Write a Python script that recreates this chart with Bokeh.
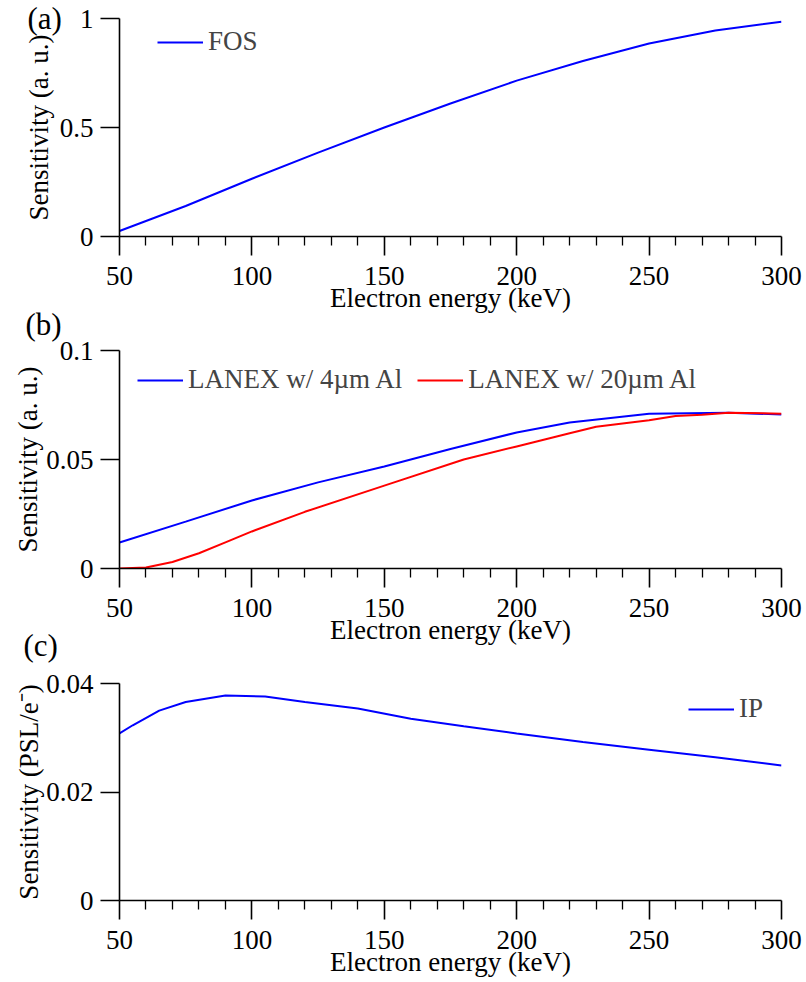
from bokeh.plotting import figure
from bokeh.layouts import column
from bokeh.models import FixedTicker, Legend, LegendItem, Range1d
from bokeh.embed import file_html
from bokeh.resources import INLINE

# ---- data ----
fos_e = [50, 75, 100, 125, 150, 175, 200, 225, 250, 275, 300]
fos_s = [0.025, 0.14, 0.265, 0.385, 0.5, 0.61, 0.715, 0.805, 0.885, 0.945, 0.985]

lanex4_e = [50, 75, 100, 125, 150, 175, 200, 220, 250, 280, 300]
lanex4_s = [0.0119, 0.0215, 0.0312, 0.0395, 0.0468, 0.0548, 0.0624, 0.067, 0.071, 0.0715, 0.0706]

lanex20_e = [50, 60, 70, 80, 90, 100, 120, 150, 180, 200, 220, 230, 250, 260, 270, 280, 300]
lanex20_s = [0.0, 0.0005, 0.003, 0.007, 0.012, 0.017, 0.026, 0.038, 0.050, 0.056, 0.062, 0.065, 0.068, 0.070, 0.0705, 0.0715, 0.071]

ip_e = [50, 55, 65, 75, 90, 105, 120, 140, 160, 180, 200, 225, 250, 275, 300]
ip_s = [0.0308, 0.0323, 0.035, 0.0366, 0.0378, 0.0376, 0.0366, 0.0354, 0.0335, 0.0321, 0.0308, 0.0292, 0.0278, 0.0264, 0.0249]

x_major = [50, 100, 150, 200, 250, 300]
x_minor = [60, 70, 80, 90, 110, 120, 130, 140, 160, 170, 180, 190,
           210, 220, 230, 240, 260, 270, 280, 290]

ya_ticks = [0, 0.5, 1]
ya_labels = {0: "0", 0.5: "0.5", 1: "1"}
yb_ticks = [0, 0.05, 0.1]
yb_labels = {0: "0", 0.05: "0.05", 0.1: "0.1"}
yc_ticks = [0, 0.02, 0.04]
yc_labels = {0: "0", 0.02: "0.02", 0.04: "0.04"}

FONT = "Liberation Serif"
TICK_FS = "27px"
LAB_FS = "27px"
TAG_FS = "31px"


def make_fig(height, top, bottom, ymax, yticks, ylabels, ylabel, ylab_standoff,
             tag, tag_offset, tag_standoff, margin_top=0):
    p = figure(width=806, height=height, output_backend="svg", toolbar_location=None,
               x_range=Range1d(50, 300), y_range=Range1d(0, ymax),
               min_border_left=119, min_border_right=25,
               min_border_top=top, min_border_bottom=bottom,
               margin=(margin_top, 0, 0, 0))
    p.outline_line_color = None
    p.xgrid.visible = False
    p.ygrid.visible = False
    p.border_fill_alpha = 0
    p.background_fill_alpha = 0
    p.title.text = tag
    p.title.align = "left"
    p.title.offset = tag_offset
    p.title.vertical_align = "bottom"
    p.title.standoff = tag_standoff
    p.title.text_font = FONT
    p.title.text_font_size = TAG_FS
    p.title.text_font_style = "normal"
    p.title.text_color = "black"
    xa = p.xaxis[0]
    xa.ticker = FixedTicker(ticks=x_major, minor_ticks=x_minor)
    xa.major_tick_out = 19
    xa.major_tick_in = 0
    xa.minor_tick_out = 9
    xa.minor_tick_in = 0
    xa.axis_label = "Electron energy (keV)"
    ya = p.yaxis[0]
    ya.ticker = FixedTicker(ticks=yticks, minor_ticks=[])
    ya.major_label_overrides = ylabels
    ya.major_tick_out = 19
    ya.major_tick_in = 0
    ya.minor_tick_out = 0
    ya.axis_label = ylabel
    for ax in (xa, ya):
        ax.axis_line_color = "black"
        ax.axis_line_width = 1.6
        ax.major_tick_line_width = 1.6
        ax.minor_tick_line_width = 1.3
        ax.major_label_text_font = FONT
        ax.major_label_text_font_size = TICK_FS
        ax.major_label_text_color = "black"
        ax.axis_label_text_font = FONT
        ax.axis_label_text_font_size = LAB_FS
        ax.axis_label_text_font_style = "normal"
        ax.axis_label_text_color = "black"
    xa.major_label_standoff = 11
    xa.axis_label_standoff = -5
    ya.major_label_standoff = 7
    ya.axis_label_standoff = ylab_standoff
    return p


def style_legend(leg, x, y, orientation="vertical"):
    leg.location = (x, y)
    leg.orientation = orientation
    leg.border_line_color = None
    leg.background_fill_alpha = 0
    leg.padding = 0
    leg.margin = 0
    leg.spacing = 15
    leg.glyph_width = 46
    leg.glyph_height = 20
    leg.label_standoff = 5
    leg.label_text_font = FONT
    leg.label_text_font_size = "27px"
    leg.label_height = 24


# panel (a): canvas 0..326, frame 18..236
pa = make_fig(326, 18, 90, 1, ya_ticks, ya_labels, "Sensitivity (a. u.)", 3,
              "(a)", -92, -34)
ra = pa.line(fos_e, fos_s, line_color="#0000ff", line_width=2)
la = Legend(items=[LegendItem(label="FOS", renderers=[ra])])
style_legend(la, 38, 179)
pa.add_layout(la)

# panel (b): canvas 290..658, frame 350..568
pb = make_fig(368, 60, 90, 0.1, yb_ticks, yb_labels, "Sensitivity (a. u.)", 0,
              "(b)", -94, 18, margin_top=-36)
rb1 = pb.line(lanex4_e, lanex4_s, line_color="#0000ff", line_width=2)
rb2 = pb.line(lanex20_e, lanex20_s, line_color="#ff0000", line_width=2)
lb = Legend(items=[LegendItem(label="LANEX w/ 4\u00b5m Al", renderers=[rb1]),
                   LegendItem(label="LANEX w/ 20\u00b5m Al", renderers=[rb2])])
style_legend(lb, 18, 173, "horizontal")
pb.add_layout(lb)

# panel (c): canvas 603..982, frame 683..900
pc = make_fig(379, 80, 82, 0.04, yc_ticks, yc_labels, "Sensitivity (PSL/e\u207b)", -1,
              "(c)", -96, 42, margin_top=-55)
rc = pc.line(ip_e, ip_s, line_color="#0000ff", line_width=2)
lc = Legend(items=[LegendItem(label="IP", renderers=[rc])])
style_legend(lc, 569, 176)
pc.add_layout(lc)

layout = column(pa, pb, pc, spacing=0)
open("out.html", "w").write(file_html(layout, INLINE))
